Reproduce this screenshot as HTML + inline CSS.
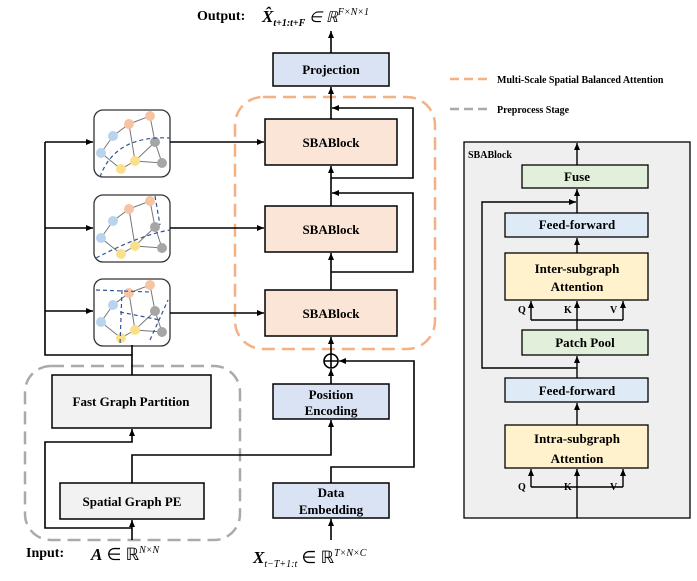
<!DOCTYPE html>
<html><head><meta charset="utf-8"><style>
body{margin:0;background:#fff;}
svg text{font-family:"Liberation Serif",serif;font-weight:bold;}
</style></head><body>
<svg width="697" height="576" viewBox="0 0 697 576" xmlns="http://www.w3.org/2000/svg">
<defs>
<marker id="a" markerWidth="8" markerHeight="8" refX="7" refY="4" orient="auto" markerUnits="userSpaceOnUse"><path d="M0,1 L7,4 L0,7 z" fill="#000"/></marker>
<g id="g">
<rect x="0" y="0" width="76" height="67" rx="9" fill="#fff" stroke="#333" stroke-width="1.3"/>
<g stroke="#777" stroke-width="1" fill="none">
<path d="M7,43 L19,26 L35,14 L56,6 L61,32 L68,53 L41,51 L35,14 M61,32 L41,51 L27,59 L7,43"/>
</g>
<circle cx="35" cy="14" r="5" fill="#f7c4a3"/><circle cx="56" cy="6" r="5" fill="#f7c4a3"/>
<circle cx="19" cy="26" r="5" fill="#b8d4ee"/><circle cx="7" cy="43" r="5" fill="#b8d4ee"/>
<circle cx="61" cy="32" r="5" fill="#a6a6a6"/><circle cx="68" cy="53" r="5" fill="#a6a6a6"/>
<circle cx="41" cy="51" r="5" fill="#fbe08c"/><circle cx="27" cy="59" r="5" fill="#fbe08c"/>
</g>
</defs>
<g font-size="13">
<!-- legend -->
<line x1="450" y1="79" x2="490" y2="79" stroke="#f5b183" stroke-width="2.5" stroke-dasharray="9,5"/>
<text x="497" y="83" font-size="10">Multi-Scale Spatial Balanced Attention</text>
<line x1="450" y1="109" x2="490" y2="109" stroke="#aaa" stroke-width="2.5" stroke-dasharray="9,5"/>
<text x="497" y="113" font-size="10">Preprocess Stage</text>

<!-- dashed regions -->
<rect x="235" y="97" width="200" height="252" rx="28" fill="none" stroke="#f5b183" stroke-width="2.5" stroke-dasharray="13,7"/>
<rect x="25" y="366" width="215" height="174" rx="26" fill="none" stroke="#aaa" stroke-width="2.5" stroke-dasharray="13,7"/>

<!-- graphs -->
<use href="#g" x="94" y="110"/>
<path d="M100,177 Q115,135 170,138" stroke="#2f5597" stroke-width="1.2" stroke-dasharray="4,3" fill="none"/>
<use href="#g" x="94" y="195"/>
<path d="M96,258 Q140,235 170,230 M155,196 L160,225" stroke="#2f5597" stroke-width="1.2" stroke-dasharray="4,3" fill="none"/>
<use href="#g" x="94" y="279"/>
<path d="M96,290 L150,292 M122,290 L120,345 M150,340 L168,300 M120,312 L160,320" stroke="#2f5597" stroke-width="1.2" stroke-dasharray="4,3" fill="none"/>

<!-- main boxes -->
<rect x="273" y="53" width="116" height="33" fill="#dae3f3" stroke="#000" stroke-width="1.5"/>
<text x="331" y="74" text-anchor="middle">Projection</text>
<rect x="265" y="119" width="132" height="46" fill="#fbe5d6" stroke="#000" stroke-width="1.5"/>
<text x="331" y="147" text-anchor="middle">SBABlock</text>
<rect x="265" y="206" width="132" height="46" fill="#fbe5d6" stroke="#000" stroke-width="1.5"/>
<text x="331" y="234" text-anchor="middle">SBABlock</text>
<rect x="265" y="290" width="132" height="46" fill="#fbe5d6" stroke="#000" stroke-width="1.5"/>
<text x="331" y="318" text-anchor="middle">SBABlock</text>
<rect x="273" y="384" width="116" height="35" fill="#dae3f3" stroke="#000" stroke-width="1.5"/>
<text x="331" y="399" text-anchor="middle">Position</text><text x="331" y="415" text-anchor="middle">Encoding</text>
<rect x="273" y="483" width="116" height="35" fill="#dae3f3" stroke="#000" stroke-width="1.5"/>
<text x="331" y="497" text-anchor="middle">Data</text><text x="331" y="514" text-anchor="middle">Embedding</text>
<rect x="52" y="375" width="159" height="53" fill="#f2f2f2" stroke="#000" stroke-width="1.5"/>
<text x="131" y="406" text-anchor="middle">Fast Graph Partition</text>
<rect x="60" y="483" width="144" height="36" fill="#f2f2f2" stroke="#000" stroke-width="1.5"/>
<text x="132" y="506" text-anchor="middle">Spatial Graph PE</text>

<!-- connectors -->
<g stroke="#000" stroke-width="1.6" fill="none">
<line x1="331" y1="53" x2="331" y2="31" marker-end="url(#a)"/>
<line x1="331" y1="119" x2="331" y2="87" marker-end="url(#a)"/>
<path d="M331,178 H413 V108 H332" marker-end="url(#a)"/>
<line x1="331" y1="206" x2="331" y2="166" marker-end="url(#a)"/>
<path d="M331,272 H413 V193 H332" marker-end="url(#a)"/>
<line x1="331" y1="290" x2="331" y2="253" marker-end="url(#a)"/>
<line x1="331" y1="354" x2="331" y2="337" marker-end="url(#a)"/>
<circle cx="331" cy="361" r="7"/>
<path d="M324,361 H338 M331,354 V368"/>
<line x1="331" y1="384" x2="331" y2="369" marker-end="url(#a)"/>
<path d="M331,483 V467 H414 V361 H339" marker-end="url(#a)"/>
<line x1="331" y1="540" x2="331" y2="519" marker-end="url(#a)"/>
<line x1="132" y1="540" x2="132" y2="520" marker-end="url(#a)"/>
<path d="M132,483 V455 H331 V420" marker-end="url(#a)"/>
<path d="M132,528 H45 V442 H132 V429" marker-end="url(#a)"/>
<path d="M132,375 V355 H45 V142"/>
<line x1="45" y1="142" x2="93" y2="142" marker-end="url(#a)"/>
<line x1="45" y1="228" x2="93" y2="228" marker-end="url(#a)"/>
<line x1="45" y1="311" x2="93" y2="311" marker-end="url(#a)"/>
<line x1="170" y1="142" x2="264" y2="142" marker-end="url(#a)"/>
<line x1="170" y1="228" x2="264" y2="228" marker-end="url(#a)"/>
<line x1="170" y1="313" x2="264" y2="313" marker-end="url(#a)"/>
<path d="M132,345 V355"/>
</g>

<!-- labels -->
<text x="197" y="20" font-size="14">Output:</text>
<text x="262" y="22" font-size="17" font-style="italic">X̂<tspan font-size="10" dy="4">t+1:t+F</tspan><tspan dy="-4" font-size="15" font-weight="normal"> ∈ ℝ</tspan><tspan font-size="10" dy="-7" font-style="italic" font-weight="normal">F×N×1</tspan></text>
<text x="26" y="557" font-size="14">Input:</text>
<text x="91" y="560" font-size="17" font-style="italic">A<tspan font-weight="normal" font-style="normal"> ∈ ℝ</tspan><tspan font-size="10" dy="-7" font-weight="normal">N×N</tspan></text>
<text x="253" y="563" font-size="17" font-style="italic">X<tspan font-size="10" dy="4" font-weight="normal">t−T+1:t</tspan><tspan dy="-4" font-weight="normal" font-style="normal"> ∈ ℝ</tspan><tspan font-size="10" dy="-7" font-weight="normal">T×N×C</tspan></text>

<!-- SBABlock panel -->
<rect x="464" y="142" width="226" height="376" fill="#efefef" stroke="#000" stroke-width="1.3"/>
<text x="468" y="158" font-size="10">SBABlock</text>
<rect x="522" y="165" width="126" height="23" fill="#e2efda" stroke="#000" stroke-width="1.3"/>
<text x="577" y="181" text-anchor="middle">Fuse</text>
<rect x="505" y="213" width="143" height="24" fill="#deebf7" stroke="#000" stroke-width="1.3"/>
<text x="577" y="229" text-anchor="middle">Feed-forward</text>
<rect x="505" y="253" width="143" height="47" fill="#fff2cc" stroke="#000" stroke-width="1.3"/>
<text x="577" y="273" text-anchor="middle">Inter-subgraph</text><text x="577" y="291" text-anchor="middle">Attention</text>
<rect x="522" y="330" width="126" height="25" fill="#e2efda" stroke="#000" stroke-width="1.3"/>
<text x="585" y="347" text-anchor="middle">Patch Pool</text>
<rect x="505" y="378" width="143" height="24" fill="#deebf7" stroke="#000" stroke-width="1.3"/>
<text x="577" y="395" text-anchor="middle">Feed-forward</text>
<rect x="505" y="425" width="143" height="43" fill="#fff2cc" stroke="#000" stroke-width="1.3"/>
<text x="577" y="443" text-anchor="middle">Intra-subgraph</text><text x="577" y="463" text-anchor="middle">Attention</text>
<g font-size="10"><text x="518" y="313">Q</text><text x="564" y="313">K</text><text x="610" y="313">V</text>
<text x="518" y="490">Q</text><text x="564" y="490">K</text><text x="610" y="490">V</text></g>
<g stroke="#000" stroke-width="1.4" fill="none">
<line x1="577" y1="165" x2="577" y2="143" marker-end="url(#a)"/>
<line x1="577" y1="213" x2="577" y2="189" marker-end="url(#a)"/>
<line x1="577" y1="253" x2="577" y2="238" marker-end="url(#a)"/>
<line x1="577" y1="330" x2="577" y2="301" marker-end="url(#a)"/>
<path d="M531,320 H623"/>
<line x1="531" y1="320" x2="531" y2="301" marker-end="url(#a)"/>
<line x1="623" y1="320" x2="623" y2="301" marker-end="url(#a)"/>
<line x1="577" y1="378" x2="577" y2="356" marker-end="url(#a)"/>
<path d="M577,368 H482 V202 H576" marker-end="url(#a)"/>
<line x1="577" y1="425" x2="577" y2="403" marker-end="url(#a)"/>
<line x1="577" y1="518" x2="577" y2="469" marker-end="url(#a)"/>
<path d="M531,487 H623"/>
<line x1="531" y1="487" x2="531" y2="469" marker-end="url(#a)"/>
<line x1="623" y1="487" x2="623" y2="469" marker-end="url(#a)"/>
</g>
</g>
</svg>
</body></html>
